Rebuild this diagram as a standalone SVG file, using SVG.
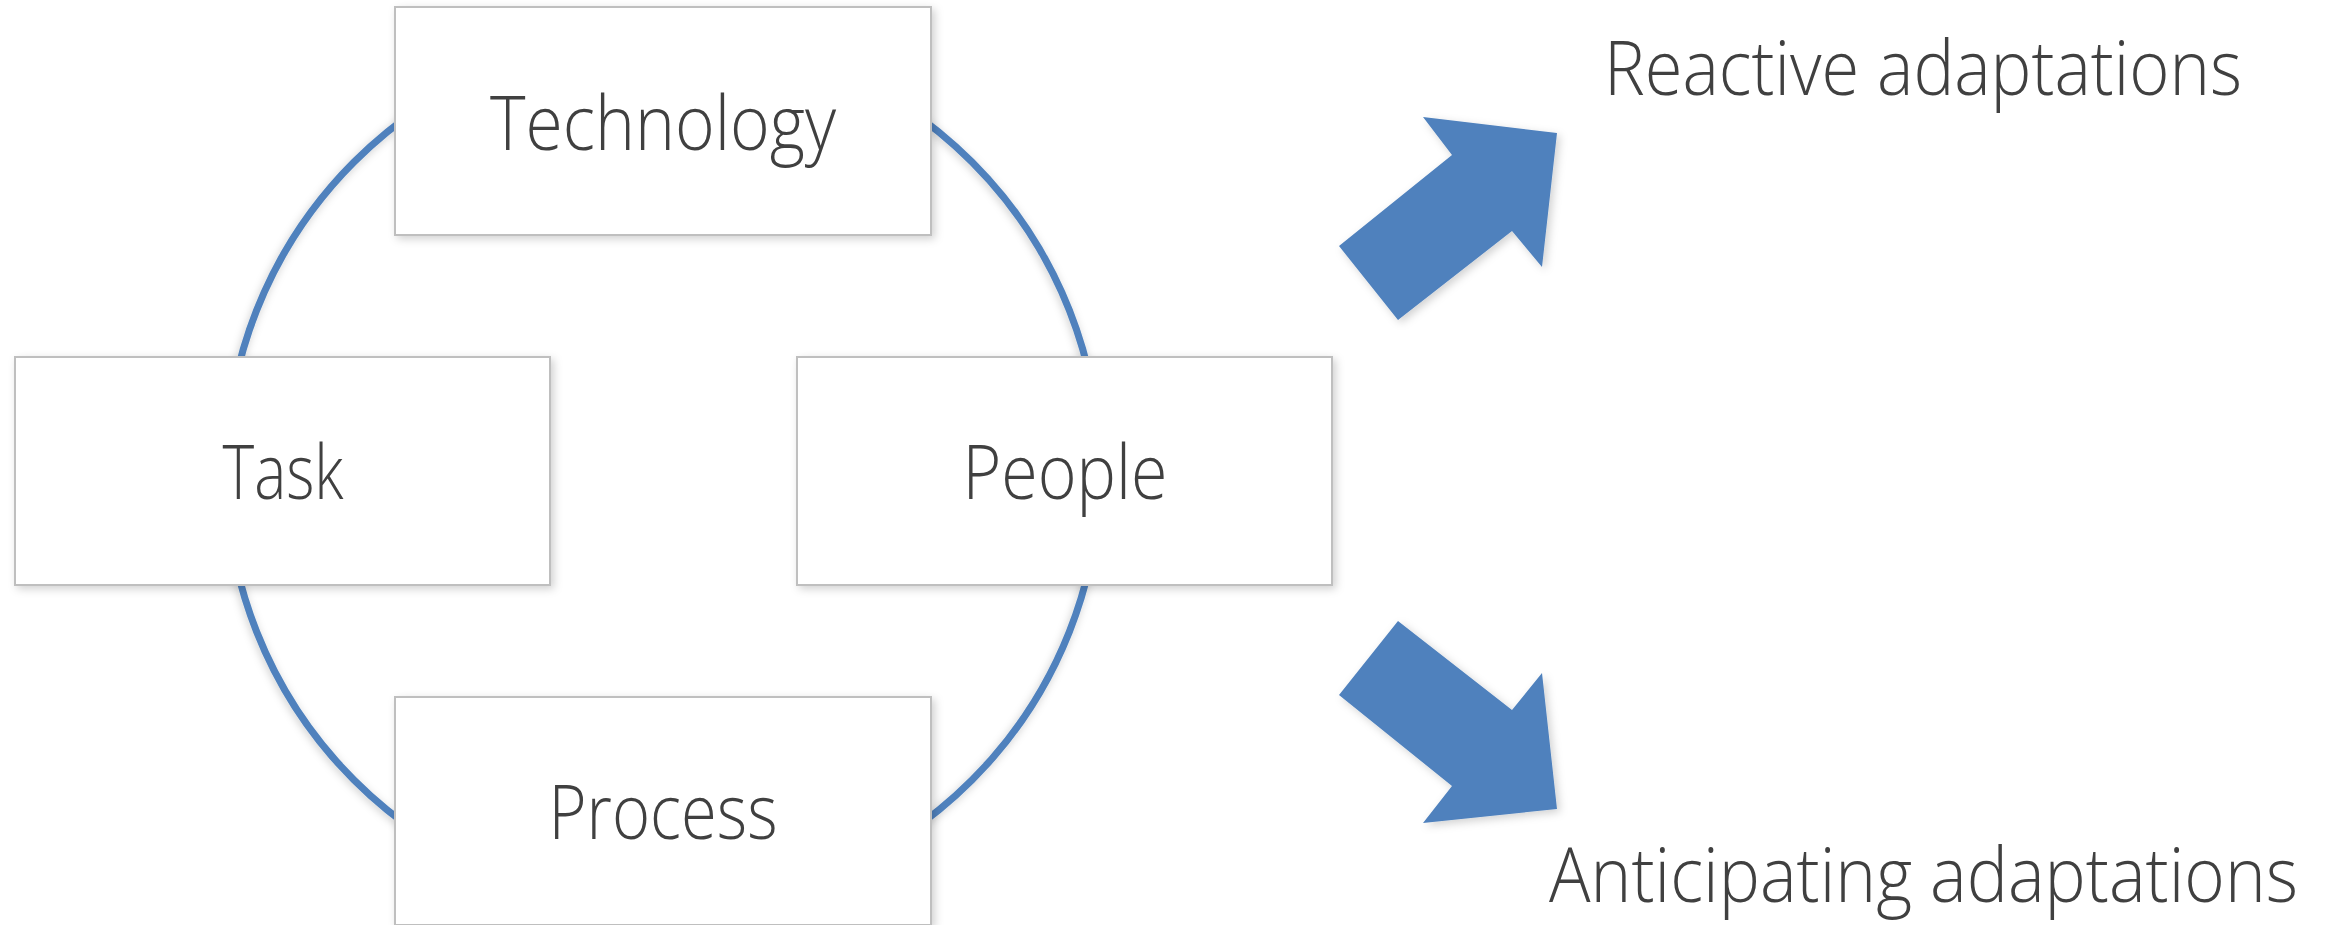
<svg xmlns="http://www.w3.org/2000/svg" width="2331" height="925" viewBox="0 0 2331 925">
<defs>
<filter id="sh" x="-10%" y="-10%" width="120%" height="120%">
<feDropShadow dx="3" dy="3" stdDeviation="4" flood-color="#000" flood-opacity="0.18"/>
</filter>
<filter id="glow" x="-10%" y="-10%" width="120%" height="120%">
<feDropShadow dx="-1" dy="2" stdDeviation="4" flood-color="#000" flood-opacity="0.2"/>
</filter>
<style>
.box{fill:#ffffff;stroke:#bfbfbf;stroke-width:2}
.lbl{font-family:"Open Sans","Segoe UI","Liberation Sans",sans-serif;font-weight:300;font-size:76px;fill:#404040}
.ring{fill:none;stroke:#4f81bd;stroke-width:7}
.arrow{fill:#4f81bd}
</style>
</defs>
<rect width="2331" height="925" fill="#ffffff"/>
<g id="connectors">
<circle class="ring" cx="663" cy="471" r="437" filter="url(#glow)"/>
<polygon id="arrow-up" class="arrow" filter="url(#sh)" points="1339,246 1398,320 1512,231 1542,267 1557,133 1423,117 1452,155"/>
<polygon id="arrow-down" class="arrow" filter="url(#sh)" points="1339,695 1398,621 1512,710 1542,673 1557,809 1423,823 1452,786"/>
</g>
<g id="node-technology">
<rect class="box" x="395" y="7" width="536" height="228" filter="url(#sh)"/>
<text class="lbl" x="663" y="150" text-anchor="middle" textLength="346" lengthAdjust="spacingAndGlyphs">Technology</text>
</g>
<g id="node-task">
<rect class="box" x="15" y="357" width="535" height="228" filter="url(#sh)"/>
<text class="lbl" x="283" y="499" text-anchor="middle" textLength="121" lengthAdjust="spacingAndGlyphs">Task</text>
</g>
<g id="node-people">
<rect class="box" x="797" y="357" width="535" height="228" filter="url(#sh)"/>
<text class="lbl" x="1065" y="499" text-anchor="middle" textLength="205" lengthAdjust="spacingAndGlyphs">People</text>
</g>
<g id="node-process">
<rect class="box" x="395" y="697" width="536" height="228" filter="url(#sh)"/>
<text class="lbl" x="663" y="839" text-anchor="middle" textLength="229" lengthAdjust="spacingAndGlyphs">Process</text>
</g>
<g id="label-reactive">
<text class="lbl" x="1604" y="95" textLength="638" lengthAdjust="spacingAndGlyphs">Reactive adaptations</text>
</g>
<g id="label-anticipating">
<text class="lbl" x="1549" y="902" textLength="749" lengthAdjust="spacingAndGlyphs">Anticipating adaptations</text>
</g>
</svg>
